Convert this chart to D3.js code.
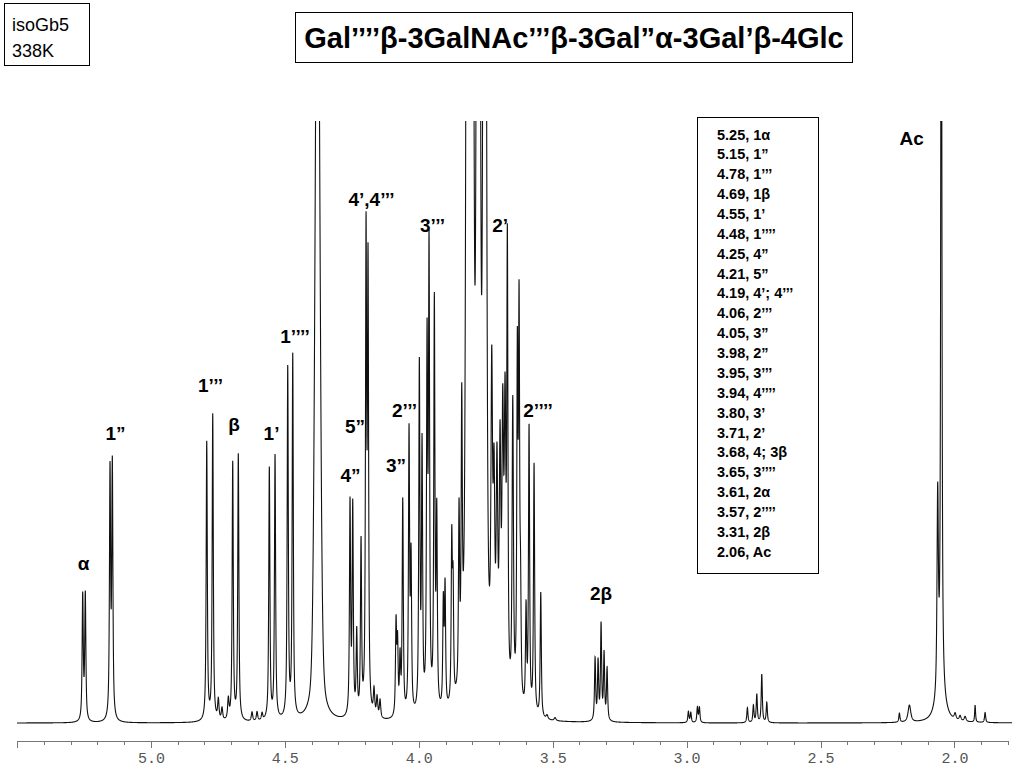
<!DOCTYPE html>
<html>
<head>
<meta charset="utf-8">
<script src="https://cdn.jsdelivr.net/npm/d3@7"></script>
<style>
  body { margin: 0; background: #fff; }
  svg { display: block; font-family: "Liberation Sans", Arial, sans-serif; }
  .peak-label { font-size: 19px; font-weight: bold; fill: #000; }
  .legend text { font-size: 14.5px; font-weight: bold; fill: #000; }
  .axis path, .axis line { stroke: #777; shape-rendering: crispEdges; }
  .axis text { font-family: "Liberation Mono", "DejaVu Sans Mono", monospace; font-size: 15px; fill: #555; }
</style>
</head>
<body>
<svg width="1024" height="768"></svg>
<script>
// peak list: shift (ppm), height (arb. units), line width (ppm), lorentz fraction
var peakShift = [
  5.2547, 5.2450,                       // H-1 alpha
  5.1527, 5.1441,                       // H-1''
  4.7916, 4.7692, 4.7483, 4.7345, 4.7110, // H-1''' + small
  4.6946, 4.6737, 4.6225, 4.6038, 4.5850, // H-1 beta + small
  4.5579, 4.5366,                       // H-1'
  4.4892, 4.4705,                       // H-1''''
  4.3779,                               // HDO
  4.2566, 4.2465, 4.2316, 4.2155,       // 4'', 5''
  4.1968, 4.1894, 4.1670, 4.1556, 4.1445, // 4', 4'''
  4.0848, 4.0792, 4.0699, 4.0598, 4.0363, 4.0288, // 3'', 2'''
  3.9978, 3.9877, 3.9690, 3.9616, 3.9418, 3.9328, // 2'', 3''', 4''''
  3.9082, 3.9018, 3.8768, 3.8719, 3.8496, 3.8395,
  3.8215, 3.8148, 3.8047, 3.7972, 3.7824, 3.7730, 3.7581, 3.7488, // 3' cluster
  3.7275, 3.7190, 3.7080, 3.6965, 3.6864, 3.6778, 3.6692, // 2'
  3.6490, 3.6319, 3.6255, 3.6200, 3.5994, 3.5882, 3.5695, 3.5445, // 3'''', 2alpha, 2''''
  3.5210, 3.4910,
  3.3417, 3.3305, 3.3193, 3.3081, 3.2969, // H-2 beta
  2.9933, 2.9843, 2.9597, 2.9522,
  2.7730, 2.7506, 2.7379, 2.7193, 2.7006,
  2.2055, 2.1681,
  2.0625, 2.0490, 2.0520,               // NAc
  1.9975, 1.9788, 1.9601, 1.9228, 1.8855
];
var peakHeight = [
  125, 126,
  246, 252,
  279, 306, 20, 12, 20,
  258, 266, 9, 9, 7,
  252, 264,
  350, 362,
  900,
  212, 208, 82, 172,
  470, 438, 26, 20, 18,
  92, 70, 55, 215, 280, 150,
  345, 260, 355, 450, 405, 190,
  105, 120, 160, 110, 175, 265,
  750, 650, 900, 700, 850, 900, 800, 650,
  300, 190, 215, 235, 260, 270, 440,
  300, 335, 380, 95, 100, 285, 250, 125,
  4, 3,
  62, 58, 95, 66, 52,
  11, 10, 15, 15,
  15, 17, 28, 48, 20,
  9, 17,
  200, 900, 22,
  6, 5, 5, 17, 10
];
var peakWidth = [
  0.005, 0.005,
  0.005, 0.005,
  0.005, 0.005, 0.006, 0.006, 0.006,
  0.005, 0.005, 0.006, 0.006, 0.006,
  0.005, 0.005,
  0.005, 0.005,
  0.020,
  0.005, 0.005, 0.005, 0.005,
  0.005, 0.005, 0.006, 0.006, 0.006,
  0.005, 0.005, 0.005, 0.005, 0.005, 0.005,
  0.005, 0.005, 0.005, 0.005, 0.005, 0.005,
  0.005, 0.005, 0.005, 0.005, 0.005, 0.005,
  0.008, 0.008, 0.008, 0.008, 0.008, 0.008, 0.008, 0.008,
  0.007, 0.007, 0.007, 0.007, 0.007, 0.007, 0.005,
  0.006, 0.005, 0.005, 0.005, 0.005, 0.005, 0.005, 0.005,
  0.008, 0.008,
  0.005, 0.005, 0.005, 0.005, 0.005,
  0.005, 0.005, 0.005, 0.005,
  0.005, 0.005, 0.005, 0.005, 0.005,
  0.005, 0.012,
  0.006, 0.005, 0.04,
  0.008, 0.008, 0.008, 0.004, 0.005
];
var peakLorentz = peakShift.map(function (d, i) { return i === 18 ? 0.3 : 0.8; });

var labelText = ["\u03b1", "1\u201d", "1\u2019\u2019\u2019", "\u03b2", "1\u2019", "1\u2019\u2019\u2019\u2019",
  "4\u2019,4\u2019\u2019\u2019", "3\u2019\u2019\u2019", "5\u201d", "4\u201d", "2\u2019\u2019\u2019", "3\u201d",
  "2\u2019", "2\u2019\u2019\u2019\u2019", "2\u03b2", "Ac"];
var labelShift = [5.2517, 5.1322, 4.7774, 4.6897, 4.5497, 4.4619, 4.1763, 3.9485, 4.2379, 4.2547,
  4.0530, 4.0848, 3.6964, 3.5545, 3.3193, 2.1598];
var labelLevel = [153, 283, 331, 292, 283, 380, 517, 491, 290, 241, 306, 251, 491, 306, 123, 578];

var legendShift = ["5.25", "5.15", "4.78", "4.69", "4.55", "4.48", "4.25", "4.21", "4.19", "4.06", "4.05",
  "3.98", "3.95", "3.94", "3.80", "3.71", "3.68", "3.65", "3.61", "3.57", "3.31", "2.06"];
var legendAssign = ["1\u03b1", "1\u201d", "1\u2019\u2019\u2019", "1\u03b2", "1\u2019", "1\u2019\u2019\u2019\u2019",
  "4\u201d", "5\u201d", "4\u2019; 4\u2019\u2019\u2019", "2\u2019\u2019\u2019", "3\u201d", "2\u201d", "3\u2019\u2019\u2019",
  "4\u2019\u2019\u2019\u2019", "3\u2019", "2\u2019", "4; 3\u03b2", "3\u2019\u2019\u2019\u2019", "2\u03b1",
  "2\u2019\u2019\u2019\u2019", "2\u03b2", "Ac"];

var majorTicks = [5.5, 5.0, 4.5, 4.0, 3.5, 3.0, 2.5, 2.0];
var majorLabels = ["", "5.0", "4.5", "4.0", "3.5", "3.0", "2.5", "2.0"];

var svg = d3.select("svg");

var x = d3.scaleLinear().domain([5.5, 1.8]).range([17, 1008]);
var y = d3.scaleLinear().domain([0, 600]).range([723, 123]);

// pseudo-voigt line shape summed over the peak list
function intensity(p) {
  var s = 0;
  for (var i = 0; i < peakShift.length; i++) {
    var u = (p - peakShift[i]) / peakWidth[i];
    var u2 = 4 * u * u;
    if (u2 > 40000) continue;
    var eta = peakLorentz[i];
    s += peakHeight[i] * (eta / (1 + u2) + (1 - eta) * Math.exp(-Math.LN2 * u2));
  }
  return s;
}

var spectrum = d3.range(5.5, 1.785, -0.0003).map(function (p) {
  return [p, intensity(p)];
});

svg.append("clipPath").attr("id", "clip")
  .append("rect").attr("x", 0).attr("y", 121).attr("width", 1024).attr("height", 620);

svg.append("path")
  .datum(spectrum)
  .attr("clip-path", "url(#clip)")
  .attr("fill", "none")
  .attr("stroke", "#111")
  .attr("stroke-width", 1.1)
  .attr("d", d3.line()
    .x(function (d) { return x(d[0]); })
    .y(function (d) { return y(d[1]); }));

// axis
svg.append("g")
  .attr("class", "axis")
  .attr("transform", "translate(0,741)")
  .call(d3.axisBottom(x)
    .tickValues(d3.range(54, 17, -1).map(function (d) { return d / 10; }))
    .tickSize(4)
    .tickSizeOuter(0)
    .tickFormat(""));

svg.append("g")
  .attr("class", "axis")
  .attr("transform", "translate(0,741)")
  .call(d3.axisBottom(x)
    .tickValues(majorTicks)
    .tickSize(7)
    .tickSizeOuter(0)
    .tickPadding(4)
    .tickFormat(function (d, i) { return majorLabels[i]; }));

// peak labels
svg.selectAll(".peak-label")
  .data(labelText)
  .enter().append("text")
  .attr("class", "peak-label")
  .attr("text-anchor", "middle")
  .attr("x", function (d, i) { return x(labelShift[i]); })
  .attr("y", function (d, i) { return y(labelLevel[i]); })
  .text(function (d) { return d; });

// assignment list
var legend = svg.append("g").attr("class", "legend");
legend.append("rect")
  .attr("x", 697.5).attr("y", 117.5)
  .attr("width", 121).attr("height", 456)
  .attr("fill", "#fff").attr("stroke", "#000");
legend.selectAll("text")
  .data(legendShift)
  .enter().append("text")
  .attr("x", 717)
  .attr("y", function (d, i) { return 139.5 + i * 19.87; })
  .text(function (d, i) { return d + ", " + legendAssign[i]; });

// header boxes
svg.append("rect")
  .attr("x", 4.5).attr("y", 3.5).attr("width", 85).attr("height", 62)
  .attr("fill", "none").attr("stroke", "#000");
svg.append("text").attr("x", 12).attr("y", 31).attr("font-size", 18).text("isoGb5");
svg.append("text").attr("x", 12).attr("y", 57).attr("font-size", 18).text("338K");

svg.append("rect")
  .attr("x", 295.5).attr("y", 12.5).attr("width", 557).attr("height", 50)
  .attr("fill", "none").attr("stroke", "#000");
svg.append("text")
  .attr("x", 574).attr("y", 48)
  .attr("text-anchor", "middle")
  .attr("font-size", 29).attr("font-weight", "bold")
  .text("Gal\u2019\u2019\u2019\u2019\u03b2-3GalNAc\u2019\u2019\u2019\u03b2-3Gal\u201d\u03b1-3Gal\u2019\u03b2-4Glc");
</script>
</body>
</html>
